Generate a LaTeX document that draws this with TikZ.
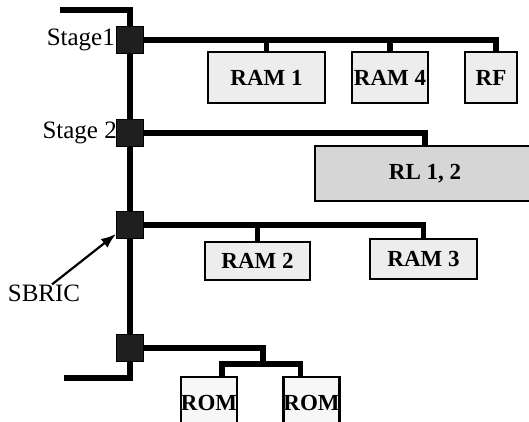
\documentclass[tikz,border=0pt]{standalone}
\usepackage{fontspec}
\setmainfont{Liberation Serif}
\usetikzlibrary{arrows.meta}

\begin{document}
\begin{tikzpicture}[>=Latex, x=1pt, y=-1pt,
    unit/.style={draw=black, line width=2.6pt, fill=gray!14, inner sep=0pt, font=\fontsize{23}{23}\selectfont\bfseries},
    sbric/.style={draw=black, fill=black!88, line width=1pt, minimum width=27pt, minimum height=27pt, inner sep=0pt},
    bus/.style={line width=5.4pt},
    lbl/.style={font=\fontsize{25}{25}\selectfont, inner sep=0pt}]
    \useasboundingbox (0,0) rectangle (529,421);
    \clip (0,0) rectangle (529,421);
    % bus and switches
    \coordinate (busin) at (60,10);
    \coordinate (busout) at (64,378);
    \draw[bus] (busin) -| (130,40) -- (130,348) |- (busout);
    \node[sbric] (sw1) at (130,40) {};
    \node[sbric] (sw2) at (130,133) {};
    \node[sbric] (sw3) at (130,225) {};
    \node[sbric] (sw4) at (130,348) {};
    \node[lbl, anchor=east] (st1) at ([xshift=-1pt]sw1.west) {Stage1};
    \node[lbl, anchor=east] (st2) at ([xshift=1pt]sw2.west) {Stage 2};
    \node[lbl] (sbricl) at (44,293) {SBRIC};
    % units
    \node[unit, minimum width=117pt, minimum height=51pt] (ram1) at (266.5,77.5) {RAM 1};
    \node[unit, minimum width=76pt, minimum height=51pt] (ram4) at (390,77.5) {RAM 4};
    \node[unit, minimum width=52pt, minimum height=51pt] (rf) at (491,77.5) {RF};
    \node[unit, fill=gray!32, minimum width=220pt, minimum height=55pt] (rl) at (425,173.5) {RL 1, 2};
    \node[unit, minimum width=105pt, minimum height=38pt] (ram2) at (257.5,261) {RAM 2};
    \node[unit, minimum width=107pt, minimum height=40pt] (ram3) at (423.5,259) {RAM 3};
    \node[unit, fill=gray!6, minimum width=52pt, minimum height=52pt] (rom1) at (209,403) {ROM};
    \node[unit, fill=gray!6, minimum width=53pt, minimum height=52pt] (rom2) at (311.5,403) {ROM};
    % branches
    \draw[bus] (sw1.east) -| ([xshift=5pt]rf.north);
    \draw[bus] (ram1.north) -- (ram1.north |- sw1.east);
    \draw[bus] (ram4.north) -- (ram4.north |- sw1.east);
    \draw[bus] (sw2.east) -| (rl.north);
    \draw[bus] (sw3.east) -| (ram3.north);
    \draw[bus] (ram2.north) -- (ram2.north |- sw3.east);
    \coordinate (romfork) at (263,364);
    \draw[bus] (sw4.east) -| (romfork);
    \draw[bus] ([xshift=13pt]rom1.north) |- (romfork) -| ([xshift=-11pt]rom2.north);
    % pointer
    \draw[->, line width=2.2pt, -{Latex[length=15pt, width=11pt]}] ([xshift=8pt]sbricl.north) -- ([yshift=5pt]sw3.south west);
\end{tikzpicture}
\end{document}
